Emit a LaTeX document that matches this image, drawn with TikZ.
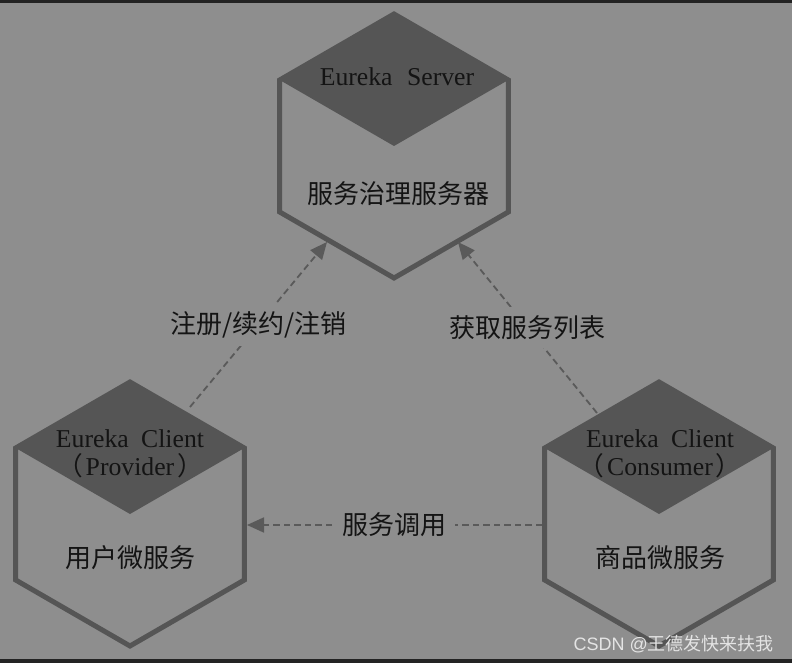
\documentclass[tikz,border=0pt]{standalone}
\usepackage{fontspec}
\setmainfont{Liberation Serif}
\newfontfamily\cjkfont{Noto Sans CJK SC}
\newfontfamily\wmfont{Liberation Sans}
\usetikzlibrary{arrows.meta,calc}
\definecolor{bg}{HTML}{8E8E8E}
\definecolor{hexdark}{HTML}{555555}
\definecolor{ink}{HTML}{141414}
\definecolor{linegray}{HTML}{5A5A5A}
\definecolor{band}{HTML}{232323}
\definecolor{wmcolor}{HTML}{E4E4E4}
\tikzset{
  hexoutline/.style={draw=hexdark, line width=5pt, line join=miter},
  topface/.style={fill=hexdark},
  latinlabel/.style={text=ink, font=\fontsize{25.7}{28}\selectfont, inner sep=0pt},
  cjklabel/.style={text=ink, font=\cjkfont\fontsize{26}{30}\selectfont, inner sep=0pt},
  flow/.style={draw=linegray, line width=1.8pt, dash pattern=on 6.5pt off 4pt, -{Triangle[length=17pt,width=15pt]}},
  flowlabel/.style={cjklabel, fill=bg, inner xsep=8pt, inner ysep=8pt},
  watermark/.style={text=wmcolor, font=\fontsize{18}{20}\selectfont, inner sep=0pt},
}
\begin{document}
\begin{tikzpicture}[x=1pt,y=-1pt]
\useasboundingbox (0,0) rectangle (792,663);
\fill[bg] (0,0) rectangle (792,663);
\fill[band] (0,0) rectangle (792,3);
\fill[band] (0,659) rectangle (792,663);

\coordinate (server) at (394,146);
\coordinate (provider) at (130,514);
\coordinate (consumer) at (659,514);

\foreach \c in {server,provider,consumer}{
  \fill[topface] ($(\c)+(0,-132)$) -- ($(\c)+(114.3,-66)$) -- (\c) -- ($(\c)+(-114.3,-66)$) -- cycle;
  \draw[hexoutline] ($(\c)+(0,-132)$) -- ($(\c)+(114.3,-66)$) -- ($(\c)+(114.3,66)$) -- ($(\c)+(0,132)$) -- ($(\c)+(-114.3,66)$) -- ($(\c)+(-114.3,-66)$) -- cycle;
}

% texts
\node[latinlabel, anchor=base] (serverTitle) at (397,86) {Eureka\hspace{8pt} Server};
\node[cjklabel] (serverDesc) at (398,194) {服务治理服务器};

\node[latinlabel, anchor=base] (provTitle) at (130,447) {Eureka\hspace{6pt} Client};
\node[latinlabel, anchor=base] (provRole) at (130,475) {{\cjkfont （}\hspace{3pt}Provider\hspace{3pt}{\cjkfont ）}};
\node[cjklabel] (provDesc) at (130,558) {用户微服务};

\node[latinlabel, anchor=base] (consTitle) at (660,447) {Eureka\hspace{6pt} Client};
\node[latinlabel, anchor=base] (consRole) at (660,475) {{\cjkfont （}\hspace{3pt}Consumer\hspace{3pt}{\cjkfont ）}};
\node[cjklabel] (consDesc) at (660,558) {商品微服务};

% connectors
\coordinate (regStart) at (190,407);
\coordinate (regEnd) at (327,242);
\coordinate (getStart) at (597,413);
\coordinate (getEnd) at (458,242);
\coordinate (callStart) at (542,525);
\coordinate (callEnd) at (247,525);

\draw[flow] (regStart) -- node[flowlabel] (regLabel) {注册/续约/注销} (regEnd);
\draw[flow] (getStart) -- node[flowlabel] (getLabel) {获取服务列表} (getEnd);
\draw[flow] (callStart) -- node[flowlabel] (callLabel) {服务调用} (callEnd);

\node[watermark, anchor=east] (wm) at (774,644) {\wmfont CSDN @\cjkfont 王德发快来扶我};
\end{tikzpicture}
\end{document}
